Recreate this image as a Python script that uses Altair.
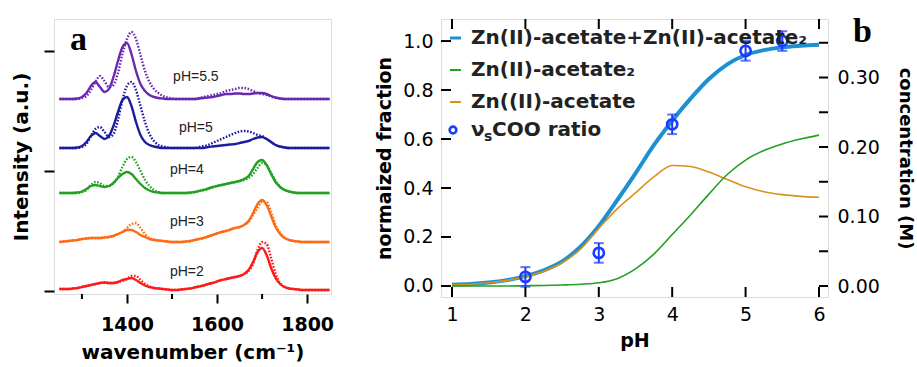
import altair as alt
import pandas as pd

FONT = "DejaVu Sans"

# ---------------- panel a : IR spectra ----------------
wavenumber = list(range(1250, 1851, 10))
ph_names = ["pH=2", "pH=3", "pH=4", "pH=5", "pH=5.5"]
trace_offsets = [1, 49, 98, 143, 192]
trace_colors = ["#FF1A1A", "#FF6A14", "#22A022", "#1C1CA0", "#6A28B0"]
label_wn = [1533, 1533, 1533, 1553, 1553]
label_y = [19, 69, 121, 163, 214]

ph2_solid = [1, 1, 1, 1.5, 2, 3, 4, 5, 6, 7,
             7.5, 7, 7, 8, 10, 11, 12, 10, 7, 4.5,
             3, 2, 1.5, 1, 0.5, 0, 0, 0.5, 1, 1.5,
             2.5, 3.5, 4.5, 6, 7, 8.5, 10, 11, 12, 13,
             14, 16, 20, 28, 38, 42, 35, 22, 12, 6,
             3, 1.5, 1, 0.5, 0, 0, 0, 0, 0, 0, 0]
ph2_dot = [1, 1, 1, 1.5, 2, 3, 4, 5, 6, 7,
           7.5, 7, 7, 8, 9, 11, 14, 14, 10, 6,
           3.5, 2, 1.5, 1, 0.5, 0, 0, 0.5, 1, 1.5,
           2.5, 3.5, 4.5, 6, 7, 8.5, 10, 11, 12, 13,
           14, 16, 19, 26, 40, 48, 46, 32, 16, 7,
           3, 1.5, 1, 0.5, 0, 0, 0, 0, 0, 0, 0]
ph3_solid = [0, 0.5, 1, 1.5, 2, 3, 3.5, 4, 4, 4,
             4.5, 5, 6, 8, 10, 12, 12, 10, 7, 5,
             3, 2, 1.5, 1, 0.5, 0, 0, 0, 0.5, 1,
             2, 3, 4, 5.5, 7, 8.5, 10, 11, 12.5, 14,
             15, 17, 21, 29, 38, 42, 37, 26, 15, 8,
             4, 2, 1, 0.5, 0, 0, 0, 0, 0, 0, 0]
ph3_dot = [0, 0.5, 1, 1.5, 2, 3, 3.5, 4, 4, 4,
           4.5, 5, 6, 8, 10, 14, 18, 19, 14, 8,
           4, 2.5, 1.5, 1, 0.5, 0, 0, 0, 0.5, 1,
           2, 3, 4, 5.5, 7, 8.5, 10, 11, 12.5, 14,
           15, 17, 20, 27, 34, 40, 40, 30, 17, 9,
           4.5, 2, 1, 0.5, 0, 0, 0, 0, 0, 0, 0]
ph4_solid = [0, 0, 0, 0, 0.5, 1.5, 4, 7, 8, 7,
             6, 7, 10, 15, 19, 21, 19, 14, 9, 5,
             2.5, 1, 0.5, 0, 0, 0, 0, 0, 0, 0.5,
             1, 2, 3, 4.5, 6, 7, 8, 9, 10, 11,
             12, 14, 17, 24, 31, 33, 28, 19, 11, 6,
             3, 1.5, 0.5, 0, 0, 0, 0, 0, 0, 0, 0]
ph4_dot = [0, 0, 0, 0, 0, 1, 3, 8, 11, 10,
           7, 7, 10, 16, 26, 34, 36, 31, 22, 13,
           7, 3, 1, 0, 0, 0, 0, 0, 0, 0,
           1, 2, 3, 4, 5.5, 7, 8, 9, 10, 11,
           12, 13, 15, 19, 25, 30, 28, 20, 12, 6,
           3, 1.5, 0.5, 0, 0, 0, 0, 0, 0, 0, 0]
ph5_solid = [0, 0, 0, 0, 0.5, 2, 6, 12, 15, 12,
             9, 12, 22, 36, 48, 51, 42, 26, 13, 6,
             3, 1.5, 0.5, 0, 0, 0, 0, 0, 0, 0,
             0, 0, 0, 1, 1.5, 2, 2.5, 3, 3.5, 4,
             5, 6, 7, 9, 10.5, 11, 9, 6, 3, 1.5,
             0.5, 0, 0, 0, 0, 0, 0, 0, 0, 0, 0]
ph5_dot = [0, 0, 0, 0, 0, 1, 4, 12, 19, 21,
           16, 11, 14, 28, 48, 62, 66, 58, 42, 26,
           14, 7, 3, 1.5, 0.5, 0, 0, 0, 0, 0,
           0, 1, 2, 3, 5, 7, 9, 11, 13, 15,
           16.5, 17, 16.5, 15, 13, 12, 9, 6, 3, 1.5,
           0.5, 0, 0, 0, 0, 0, 0, 0, 0, 0, 0]
ph55_solid = [0, 0, 0, 0, 0.5, 2, 6, 13, 17, 12,
              7, 10, 22, 38, 52, 56, 45, 28, 15, 8,
              4, 2, 1, 0.5, 0, 0, 0, 0, 0, 0,
              0, 0.5, 1, 1.5, 2, 3, 4, 5, 5, 5.5,
              5.5, 5, 5, 5.5, 6, 6, 5, 3, 1.5, 0.5,
              0, 0, 0, 0, 0, 0, 0, 0, 0, 0, 0]
ph55_dot = [0, 0, 0, 0, 0, 1, 3, 9, 17, 23,
            18, 12, 14, 26, 45, 60, 67, 60, 44, 28,
            17, 10, 6, 3, 1.5, 0.5, 0, 0, 0, 0,
            0, 1, 2, 3, 4, 5, 6, 8, 9, 10,
            11, 11, 10, 8, 6, 5, 4, 2.5, 1, 0.5,
            0, 0, 0, 0, 0, 0, 0, 0, 0, 0, 0]

solid_traces = [ph2_solid, ph3_solid, ph4_solid, ph5_solid, ph55_solid]
dot_traces = [ph2_dot, ph3_dot, ph4_dot, ph5_dot, ph55_dot]
minor_wn_ticks = [1300, 1500, 1700]

# ---------------- panel b : speciation ----------------
ph_grid = [1.0, 1.25, 1.5, 1.75, 2.0, 2.25, 2.5, 2.75, 3.0, 3.25, 3.5,
           3.75, 4.0, 4.25, 4.5, 4.75, 5.0, 5.25, 5.5, 5.75, 6.0]
total_frac = [0.005, 0.008, 0.014, 0.024, 0.04, 0.064, 0.10, 0.16, 0.245, 0.35, 0.46,
              0.575, 0.675, 0.765, 0.845, 0.905, 0.943, 0.963, 0.975, 0.981, 0.985]
mono_frac = [0.004, 0.007, 0.013, 0.023, 0.038, 0.06, 0.095, 0.15, 0.235, 0.315, 0.38,
             0.445, 0.492, 0.488, 0.465, 0.435, 0.405, 0.385, 0.373, 0.366, 0.362]
di_frac = [0.0, 0.0, 0.0, 0.0, 0.001, 0.002, 0.004, 0.007, 0.013, 0.03, 0.07,
           0.13, 0.21, 0.29, 0.375, 0.455, 0.514, 0.553, 0.58, 0.60, 0.616]
ratio_ph = [2, 3, 4, 5, 5.5]
ratio_val = [0.037, 0.135, 0.66, 0.96, 1.0]
ratio_err = [0.04, 0.04, 0.04, 0.04, 0.04]
frac_ticks = [0, 0.2, 0.4, 0.6, 0.8, 1.0]
ph_ticks = [1, 2, 3, 4, 5, 6]
conc_ticks = [0, 0.05, 0.10, 0.15, 0.20, 0.25, 0.30, 0.35]
conc_labels = [0, 0.1, 0.2, 0.3]

C_TOTAL, C_DI, C_MONO, C_PT = "#1E90D2", "#22A022", "#D8921C", "#1A3CFF"

W_A, H_A = 277, 275
W_B, H_B = 387, 278

# ---------- build panel a ----------
rows = []
for name, off, s, d in zip(ph_names, trace_offsets, solid_traces, dot_traces):
    for wn, a, b in zip(wavenumber, s, d):
        rows.append({"wn": wn, "y": a + off, "ph": name, "style": "solid"})
        rows.append({"wn": wn, "y": b + off, "ph": name, "style": "dot"})
df_a = pd.DataFrame(rows)
df_lab = pd.DataFrame({"wn": label_wn, "y": label_y, "label": ph_names})
df_minor = pd.DataFrame({"wn": minor_wn_ticks})

x_a = alt.X("wn:Q", scale=alt.Scale(domain=[1238, 1853], nice=False, zero=False),
            axis=alt.Axis(values=[1400, 1600, 1800], format="d", tickSize=9, tickWidth=2,
                          tickColor="black", labelFont=FONT, labelFontSize=19,
                          labelFontWeight="bold", labelColor="black", labelPadding=12,
                          domain=False, grid=False,
                          title="wavenumber (cm⁻¹)", titleFont=FONT, titleFontSize=20,
                          titleFontWeight="bold", titleColor="black", titlePadding=8))
y_a = alt.Y("y:Q", scale=alt.Scale(domain=[-3, 272], nice=False, zero=False),
            axis=alt.Axis(values=[0, 120, 240], tickSize=10, tickWidth=2, tickColor="black",
                          labels=False, domain=False, grid=False,
                          title="Intensity (a.u.)", titleFont=FONT, titleFontSize=20,
                          titleFontWeight="bold", titleColor="black", titlePadding=12))
col_a = alt.Color("ph:N", scale=alt.Scale(domain=ph_names, range=trace_colors), legend=None)

solid_layer = alt.Chart(df_a).transform_filter("datum.style == 'solid'").mark_line(
    strokeWidth=2.4, interpolate="monotone").encode(x=x_a, y=y_a, color=col_a, detail="ph:N")
dot_layer = alt.Chart(df_a).transform_filter("datum.style == 'dot'").mark_line(
    strokeWidth=2.4, strokeDash=[1.6, 1.6], interpolate="monotone").encode(
    x=x_a, y=y_a, color=col_a, detail="ph:N")
lab_layer = alt.Chart(df_lab).mark_text(font="Liberation Sans", fontSize=14, color="#222222").encode(
    x=x_a, y=y_a, text="label:N")
minor_layer = alt.Chart(df_minor).mark_rule(color="black", strokeWidth=2).encode(
    x=x_a, y=alt.value(H_A), y2=alt.value(H_A + 5))
a_text = alt.Chart(pd.DataFrame({"t": ["a"]})).mark_text(
    font="Liberation Serif", fontSize=34, fontWeight="bold", align="left", baseline="alphabetic",
    color="black").encode(x=alt.value(16), y=alt.value(31), text="t:N")

panel_a = alt.layer(solid_layer, dot_layer, lab_layer, minor_layer, a_text).properties(
    width=W_A, height=H_A)

# ---------- build panel b ----------
df_curves = pd.DataFrame({"ph": ph_grid * 3,
                          "v": total_frac + mono_frac + di_frac,
                          "s": ["total"] * 21 + ["mono"] * 21 + ["di"] * 21})
df_pts = pd.DataFrame({"ph": ratio_ph, "v": ratio_val,
                       "lo": [v - e for v, e in zip(ratio_val, ratio_err)],
                       "hi": [v + e for v, e in zip(ratio_val, ratio_err)]})
df_caps = pd.DataFrame({"ph": ratio_ph * 2,
                        "v": list(df_pts["lo"]) + list(df_pts["hi"])})

x_b = alt.X("ph:Q", scale=alt.Scale(domain=[0.85, 6.123], nice=False, zero=False),
            axis=alt.Axis(values=ph_ticks, format="d", ticks=False, tickSize=0,
                          labelFont=FONT, labelFontSize=19, labelColor="black", labelPadding=8,
                          domain=False, grid=False, title="pH", titleFont=FONT, titleFontSize=19,
                          titleFontWeight="bold", titleColor="black", titlePadding=7))
yaxis_b = alt.Axis(values=frac_ticks, format=".1f", ticks=False, tickSize=0,
                   labelFont=FONT, labelFontSize=19, labelColor="black", labelPadding=8,
                   domain=False, grid=False, title="normaized fraction", titleFont=FONT,
                   titleFontSize=19, titleFontWeight="bold", titleColor="black", titlePadding=8)
yscale_b = alt.Scale(domain=[-0.045, 1.09], nice=False, zero=False)
y_b = alt.Y("v:Q", scale=yscale_b, axis=yaxis_b)

def curve(name, color, width):
    return alt.Chart(df_curves).transform_filter(f"datum.s == '{name}'").mark_line(
        color=color, strokeWidth=width, interpolate="monotone").encode(x=x_b, y=y_b)

err_layer = alt.Chart(df_pts).mark_rule(color=C_PT, strokeWidth=2).encode(
    x=x_b, y=alt.Y("lo:Q", scale=yscale_b, axis=yaxis_b), y2="hi:Q")
cap_layer = alt.Chart(df_caps).mark_tick(color=C_PT, orient="horizontal", size=10,
                                         thickness=2).encode(x=x_b, y=y_b)
pt_layer = alt.Chart(df_pts).mark_point(shape="circle", filled=False, size=105, strokeWidth=2.6,
                                        color=C_PT, opacity=1).encode(x=x_b, y=y_b)

tick_left = alt.Chart(pd.DataFrame({"v": frac_ticks})).mark_rule(color="black", strokeWidth=2).encode(
    y=y_b, x=alt.value(0), x2=alt.value(10))
tick_bottom = alt.Chart(pd.DataFrame({"ph": ph_ticks})).mark_rule(color="black", strokeWidth=2).encode(
    x=x_b, y=alt.value(H_B - 10), y2=alt.value(H_B))
tick_top = alt.Chart(pd.DataFrame({"ph": ph_ticks})).mark_rule(color="black", strokeWidth=2).encode(
    x=x_b, y=alt.value(0), y2=alt.value(10))

legend_rows = [
    ("Zn(II)-acetate+Zn(II)-acetate₂", C_TOTAL, 19, "line"),
    ("Zn(II)-acetate₂", C_DI, 51, "line"),
    ("Zn((II)-acetate", C_MONO, 83, "line"),
]
leg_layers = []
one = pd.DataFrame({"t": ["x"]})
for text, color, ypix, kind in legend_rows:
    leg_layers.append(alt.Chart(one).mark_rule(color=color, strokeWidth=3 if color == C_TOTAL else 2).encode(
        x=alt.value(9), x2=alt.value(20), y=alt.value(ypix)))
    leg_layers.append(alt.Chart(pd.DataFrame({"t": [text]})).mark_text(
        font=FONT, fontSize=20, fontWeight="bold", align="left", baseline="middle", color="#222222"
    ).encode(x=alt.value(30), y=alt.value(ypix), text="t:N"))
leg_layers.append(alt.Chart(one).mark_point(shape="circle", filled=False, size=45, strokeWidth=2.6,
                                            color=C_PT, opacity=1).encode(x=alt.value(12), y=alt.value(111)))
for txt, xp, yp, fs in [("ν", 30, 111, 20), ("s", 43, 118, 14), ("COO ratio", 51, 111, 20)]:
    leg_layers.append(alt.Chart(pd.DataFrame({"t": [txt]})).mark_text(
        font=FONT, fontSize=fs, fontWeight="bold", align="left", baseline="middle", color="#222222"
    ).encode(x=alt.value(xp), y=alt.value(yp), text="t:N"))

b_text = alt.Chart(pd.DataFrame({"t": ["b"]})).mark_text(
    font="Liberation Serif", fontSize=34, fontWeight="bold", align="left", baseline="alphabetic",
    color="black").encode(x=alt.value(412), y=alt.value(23), text="t:N")

left_layers = alt.layer(
    curve("total", C_TOTAL, 4), curve("mono", C_MONO, 1.6), curve("di", C_DI, 1.6),
    err_layer, cap_layer, pt_layer, tick_left, tick_bottom, tick_top, *leg_layers, b_text)

right_layer = alt.Chart(pd.DataFrame({"c": conc_ticks})).mark_rule(color="black", strokeWidth=2).encode(
    x=alt.value(W_B - 9), x2=alt.value(W_B),
    y=alt.Y("c:Q", scale=alt.Scale(domain=[-0.0158, 0.3842], nice=False, zero=False),
            axis=alt.Axis(orient="right", values=conc_labels, format=".2f", ticks=False, tickSize=0,
                          labelFont=FONT, labelFontSize=19, labelColor="black", labelPadding=9,
                          domain=False, grid=False, title="concentration (M)", titleAngle=90,
                          titleFont=FONT, titleFontSize=18, titleFontWeight="bold",
                          titleColor="black", titlePadding=16)))

panel_b = alt.layer(left_layers, right_layer).resolve_scale(y="independent").properties(
    width=W_B, height=H_B)

chart = alt.hconcat(panel_a, panel_b, spacing=40).properties(
    padding={"left": 10, "top": 14, "right": 2, "bottom": 0}
).configure_view(stroke="black", strokeWidth=2.2).configure(background="white")

chart.save("out.html", embed_options={"renderer": "svg", "actions": False})
